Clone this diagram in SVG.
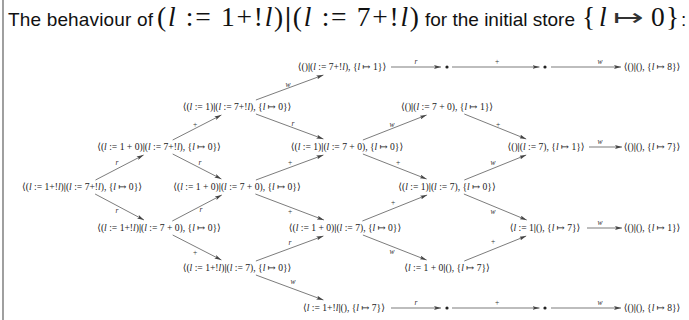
<svg xmlns="http://www.w3.org/2000/svg" width="689" height="320" viewBox="0 0 689 320">
<defs>
<style>
.t{font-family:"Liberation Sans","DejaVu Sans",sans-serif;font-size:19px;fill:#111}
.m{font-family:"Liberation Serif","DejaVu Serif",serif;font-size:27.5px;fill:#111}
.ar{font-family:"DejaVu Sans",sans-serif;font-weight:200;font-size:26px;fill:#333}
.n{font-family:"Liberation Serif","DejaVu Serif",serif;font-size:9.6px;fill:#222;text-anchor:middle}
.i{font-style:italic}
.b{font-weight:bold}
.lb{font-family:"Liberation Serif","DejaVu Serif",serif;font-size:7.5px;fill:#333;text-anchor:middle}
.e{stroke:#444;stroke-width:0.7;fill:none;marker-end:url(#ah)}
.d{fill:#222}
</style>
<marker id="ah" viewBox="0 0 7 4" refX="7" refY="2" markerWidth="7" markerHeight="4" orient="auto" markerUnits="userSpaceOnUse">
<path d="M0,0 L7,2 L0,4 L1.5,2 Z" fill="#444"/>
</marker>
</defs>
<rect width="689" height="320" fill="#fff"/>
<line x1="3" y1="0" x2="3" y2="320" stroke="#777" stroke-width="1.4"/>
<g id="title">
<text class="t" x="8" y="26" textLength="145">The behaviour of</text>
<text class="m" x="157" y="26" textLength="262">(<tspan class="i">l</tspan> := 1+!<tspan class="i">l</tspan>)<tspan class="b">|</tspan>(<tspan class="i">l</tspan> := 7+!<tspan class="i">l</tspan>)</text>
<text class="t" x="425" y="26">for the initial store</text>
<text class="m" x="582" y="26">{</text>
<text class="m i" x="599" y="26">l</text>
<text class="ar" x="613" y="26" textLength="31" lengthAdjust="spacingAndGlyphs">↦</text>
<text class="m" x="651" y="26">0</text>
<text class="m" x="666" y="26">}</text>
<text class="t" x="681" y="26">:</text>
</g>
<g id="connectors">
<line class="e" x1="95.5" y1="180" x2="143.6" y2="155"/>
<line class="e" x1="95.1" y1="194" x2="144" y2="220"/>
<line class="e" x1="172.7" y1="140" x2="221.4" y2="115"/>
<line class="e" x1="172.7" y1="154" x2="221.4" y2="179"/>
<line class="e" x1="172.3" y1="221" x2="221.8" y2="195"/>
<line class="e" x1="172.7" y1="235" x2="221.4" y2="260"/>
<line class="e" x1="255.9" y1="100" x2="323.4" y2="75"/>
<line class="e" x1="255.9" y1="114" x2="323.4" y2="139"/>
<line class="e" x1="255.9" y1="180" x2="323.4" y2="155"/>
<line class="e" x1="255.4" y1="194" x2="323.9" y2="220"/>
<line class="e" x1="255.9" y1="261" x2="323.4" y2="236"/>
<line class="e" x1="255.9" y1="275" x2="323.4" y2="300"/>
<line class="e" x1="362.9" y1="140" x2="426.6" y2="115"/>
<line class="e" x1="362.9" y1="154" x2="426.6" y2="179"/>
<line class="e" x1="362.4" y1="221" x2="427.1" y2="195"/>
<line class="e" x1="362.9" y1="235" x2="426.6" y2="260"/>
<line class="e" x1="464.3" y1="114" x2="526.2" y2="139"/>
<line class="e" x1="464.3" y1="180" x2="526.2" y2="155"/>
<line class="e" x1="463.9" y1="194" x2="526.7" y2="220"/>
<line class="e" x1="464.3" y1="261" x2="526.2" y2="236"/>
<line class="e" x1="589" y1="147" x2="622" y2="147"/>
<line class="e" x1="587" y1="228" x2="622" y2="228"/>
<line class="e" x1="391" y1="67" x2="441" y2="67"/>
<line class="e" x1="452" y1="67" x2="539.5" y2="67"/>
<line class="e" x1="551" y1="67" x2="621" y2="67"/>
<line class="e" x1="391" y1="308" x2="441" y2="308"/>
<line class="e" x1="452" y1="308" x2="539.5" y2="308"/>
<line class="e" x1="551" y1="308" x2="621" y2="308"/>
<text class="lb i" x="117" y="165">r</text>
<text class="lb i" x="117" y="213">r</text>
<text class="lb" x="195" y="127">+</text>
<text class="lb i" x="200" y="165">r</text>
<text class="lb i" x="201" y="212">r</text>
<text class="lb" x="195" y="255">+</text>
<text class="lb i" x="288" y="87">w</text>
<text class="lb i" x="293" y="126">r</text>
<text class="lb" x="290" y="165">+</text>
<text class="lb" x="290" y="214">+</text>
<text class="lb i" x="290" y="245">r</text>
<text class="lb i" x="293" y="284">w</text>
<text class="lb i" x="392" y="127">w</text>
<text class="lb" x="398" y="165">+</text>
<text class="lb" x="393" y="205">+</text>
<text class="lb i" x="392" y="254">w</text>
<text class="lb" x="498" y="127">+</text>
<text class="lb i" x="493" y="165">w</text>
<text class="lb i" x="493" y="214">w</text>
<text class="lb" x="493" y="244">+</text>
<text class="lb i" x="600" y="144">w</text>
<text class="lb i" x="600" y="225">w</text>
<text class="lb i" x="416" y="64">r</text>
<text class="lb" x="497" y="64">+</text>
<text class="lb i" x="600" y="64">w</text>
<text class="lb i" x="416" y="305">r</text>
<text class="lb" x="497" y="305">+</text>
<text class="lb i" x="600" y="305">w</text>
</g>
<g id="A"><text class="n" x="82" y="190.2">⟨(<tspan class="i">l</tspan> := 1+!<tspan class="i">l</tspan>)<tspan class="b">|</tspan>(<tspan class="i">l</tspan> := 7+!<tspan class="i">l</tspan>), {<tspan class="i">l</tspan> ↦ 0}⟩</text></g>
<g id="B1"><text class="n" x="159" y="150.2">⟨(<tspan class="i">l</tspan> := 1 + 0)<tspan class="b">|</tspan>(<tspan class="i">l</tspan> := 7+!<tspan class="i">l</tspan>), {<tspan class="i">l</tspan> ↦ 0}⟩</text></g>
<g id="B2"><text class="n" x="159" y="231.2">⟨(<tspan class="i">l</tspan> := 1+!<tspan class="i">l</tspan>)<tspan class="b">|</tspan>(<tspan class="i">l</tspan> := 7 + 0), {<tspan class="i">l</tspan> ↦ 0}⟩</text></g>
<g id="C1"><text class="n" x="237" y="110.2">⟨(<tspan class="i">l</tspan> := 1)<tspan class="b">|</tspan>(<tspan class="i">l</tspan> := 7+!<tspan class="i">l</tspan>), {<tspan class="i">l</tspan> ↦ 0}⟩</text></g>
<g id="C2"><text class="n" x="237" y="190.2">⟨(<tspan class="i">l</tspan> := 1 + 0)<tspan class="b">|</tspan>(<tspan class="i">l</tspan> := 7 + 0), {<tspan class="i">l</tspan> ↦ 0}⟩</text></g>
<g id="C3"><text class="n" x="237" y="271.2">⟨(<tspan class="i">l</tspan> := 1+!<tspan class="i">l</tspan>)<tspan class="b">|</tspan>(<tspan class="i">l</tspan> := 7), {<tspan class="i">l</tspan> ↦ 0}⟩</text></g>
<g id="D1"><text class="n" x="342" y="70.2">⟨()<tspan class="b">|</tspan>(<tspan class="i">l</tspan> := 7+!<tspan class="i">l</tspan>), {<tspan class="i">l</tspan> ↦ 1}⟩</text></g>
<g id="D2"><text class="n" x="347" y="150.2">⟨(<tspan class="i">l</tspan> := 1)<tspan class="b">|</tspan>(<tspan class="i">l</tspan> := 7 + 0), {<tspan class="i">l</tspan> ↦ 0}⟩</text></g>
<g id="D3"><text class="n" x="345" y="231.2">⟨(<tspan class="i">l</tspan> := 1 + 0)<tspan class="b">|</tspan>(<tspan class="i">l</tspan> := 7), {<tspan class="i">l</tspan> ↦ 0}⟩</text></g>
<g id="D4"><text class="n" x="344" y="311.2">⟨<tspan class="i">l</tspan> := 1+!<tspan class="i">l</tspan><tspan class="b">|</tspan>(), {<tspan class="i">l</tspan> ↦ 7}⟩</text></g>
<g id="E1"><text class="n" x="447" y="110.2">⟨()<tspan class="b">|</tspan>(<tspan class="i">l</tspan> := 7 + 0), {<tspan class="i">l</tspan> ↦ 1}⟩</text></g>
<g id="E2"><text class="n" x="447" y="190.2">⟨(<tspan class="i">l</tspan> := 1)<tspan class="b">|</tspan>(<tspan class="i">l</tspan> := 7), {<tspan class="i">l</tspan> ↦ 0}⟩</text></g>
<g id="E3"><text class="n" x="447" y="271.2">⟨<tspan class="i">l</tspan> := 1 + 0<tspan class="b">|</tspan>(), {<tspan class="i">l</tspan> ↦ 7}⟩</text></g>
<g id="F1"><text class="n" x="546" y="150.2">⟨()<tspan class="b">|</tspan>(<tspan class="i">l</tspan> := 7), {<tspan class="i">l</tspan> ↦ 1}⟩</text></g>
<g id="F2"><text class="n" x="545" y="231.2">⟨<tspan class="i">l</tspan> := 1<tspan class="b">|</tspan>(), {<tspan class="i">l</tspan> ↦ 7}⟩</text></g>
<g id="G0"><text class="n" x="652" y="70.2">⟨()<tspan class="b">|</tspan>(), {<tspan class="i">l</tspan> ↦ 8}⟩</text></g>
<g id="G1"><text class="n" x="652" y="150.2">⟨()<tspan class="b">|</tspan>(), {<tspan class="i">l</tspan> ↦ 7}⟩</text></g>
<g id="G2"><text class="n" x="652" y="231.2">⟨()<tspan class="b">|</tspan>(), {<tspan class="i">l</tspan> ↦ 1}⟩</text></g>
<g id="G3"><text class="n" x="652" y="311.2">⟨()<tspan class="b">|</tspan>(), {<tspan class="i">l</tspan> ↦ 8}⟩</text></g>
<g id="dot1"><circle class="d" cx="447" cy="67" r="1.6"/></g>
<g id="dot2"><circle class="d" cx="545" cy="67" r="1.6"/></g>
<g id="dot3"><circle class="d" cx="447" cy="308" r="1.6"/></g>
<g id="dot4"><circle class="d" cx="545" cy="308" r="1.6"/></g>
</svg>
